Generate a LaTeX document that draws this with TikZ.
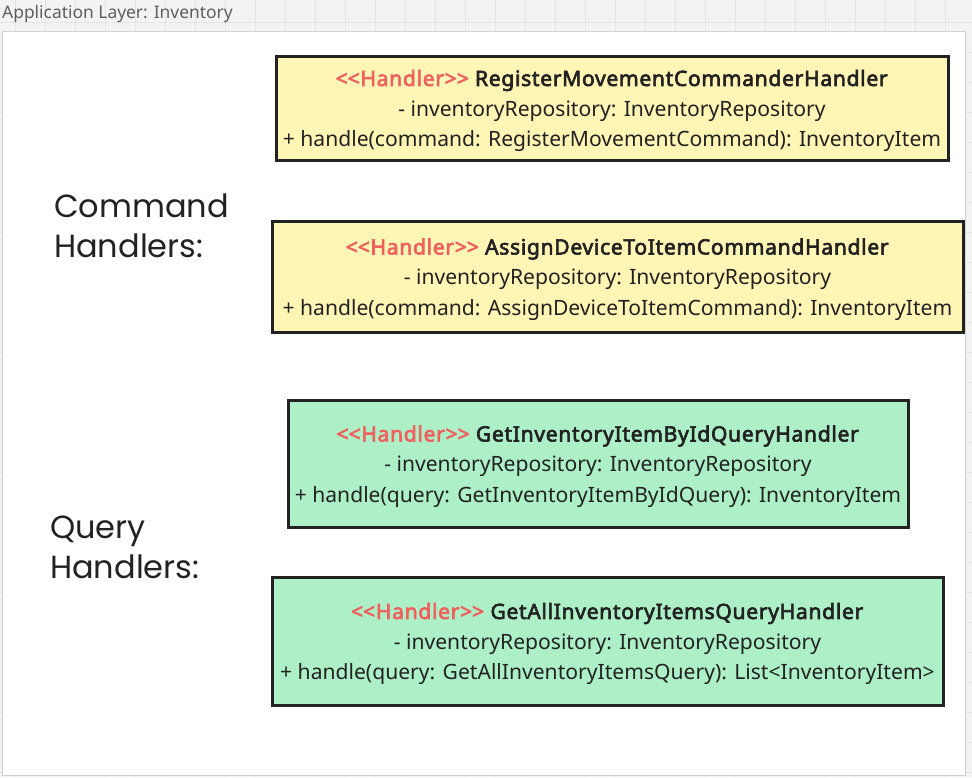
\documentclass[tikz,border=0pt]{standalone}
\usepackage{fontspec}
\setmainfont{Noto Sans}[BoldFont={Noto Sans}, BoldFeatures={FakeBold=3, LetterSpace=3.2}]
\newfontfamily\labelfont{Poppins}
\usetikzlibrary{positioning}
\definecolor{hRed}{HTML}{F0605D}
\definecolor{hYellow}{HTML}{FFF5B5}
\definecolor{hGreen}{HTML}{ADF0C8}
\definecolor{hLine}{HTML}{222222}
\definecolor{hGray}{HTML}{5E5E5E}
\definecolor{gridBg}{HTML}{F3F3F3}
\definecolor{gridLine}{HTML}{E4E4E4}
\newcommand{\stereo}{\rule{0pt}{22pt}\textcolor{hRed}{\textbf{<\kern0pt<Handler>\kern0pt>}}}

\begin{document}
\begin{tikzpicture}[
  x=1pt, y=-1pt,
  every node/.style={inner sep=0pt},
  handler/.style={draw=hLine, line width=3pt, align=center, text=hLine,
                  font=\fontsize{21.1}{30.5}\selectfont},
  cmd/.style={handler, fill=hYellow},
  qry/.style={handler, fill=hGreen},
  sidelbl/.style={anchor=north west, align=left, text=hLine,
                  font=\labelfont\fontsize{32}{40}\selectfont},
]
  \useasboundingbox (0,0) rectangle (972,777);
  \fill[gridBg] (0,0) rectangle (972,777);
  \foreach \gx in {15,45,...,975} \draw[gridLine, line width=0.8pt] (\gx,0) -- (\gx,777);
  \foreach \gy in {22,52,...,777} \draw[gridLine, line width=0.8pt] (0,\gy) -- (972,\gy);

  % Frame
  \node[draw=black!18, fill=white, line width=1pt, anchor=north west,
        minimum width=963pt, minimum height=744pt] (frame) at (2,31) {};
  \node[anchor=base west, text=hGray, font=\fontsize{17.4}{18}\selectfont] (title) at (2,18)
    {Application Layer: Inventory};

  % Command handlers
  \node[cmd, minimum width=672pt, minimum height=104pt] (reg) at (612,108) {
    \stereo\ \textbf{RegisterMovementCommanderHandler}\\
    - inventoryRepository: InventoryRepository\\
    + handle(command: RegisterMovementCommand): InventoryItem};
  \node[cmd, minimum width=691pt, minimum height=111pt] (assign) at (617.5,276.5) {
    \stereo\ \textbf{AssignDeviceToItemCommandHandler}\\
    - inventoryRepository: InventoryRepository\\
    + handle(command: AssignDeviceToItemCommand): InventoryItem};

  % Query handlers
  \node[qry, minimum width=620pt, minimum height=127pt] (byid) at (598,463.5) {
    \stereo\ \textbf{GetInventoryItemByIdQueryHandler}\\
    - inventoryRepository: InventoryRepository\\
    + handle(query: GetInventoryItemByIdQuery): InventoryItem};
  \node[qry, minimum width=671pt, minimum height=128pt] (all) at (607.5,641) {
    \stereo\ \textbf{GetAllInventoryItemsQueryHandler}\\
    - inventoryRepository: InventoryRepository\\
    + handle(query: GetAllInventoryItemsQuery): List<InventoryItem>};

  % Side labels
  \node[sidelbl] (cmdlbl) at (54,194) {Command\\Handlers:};
  \node[sidelbl] (qrylbl) at (50,516) {Query\\Handlers:};
\end{tikzpicture}
\end{document}
